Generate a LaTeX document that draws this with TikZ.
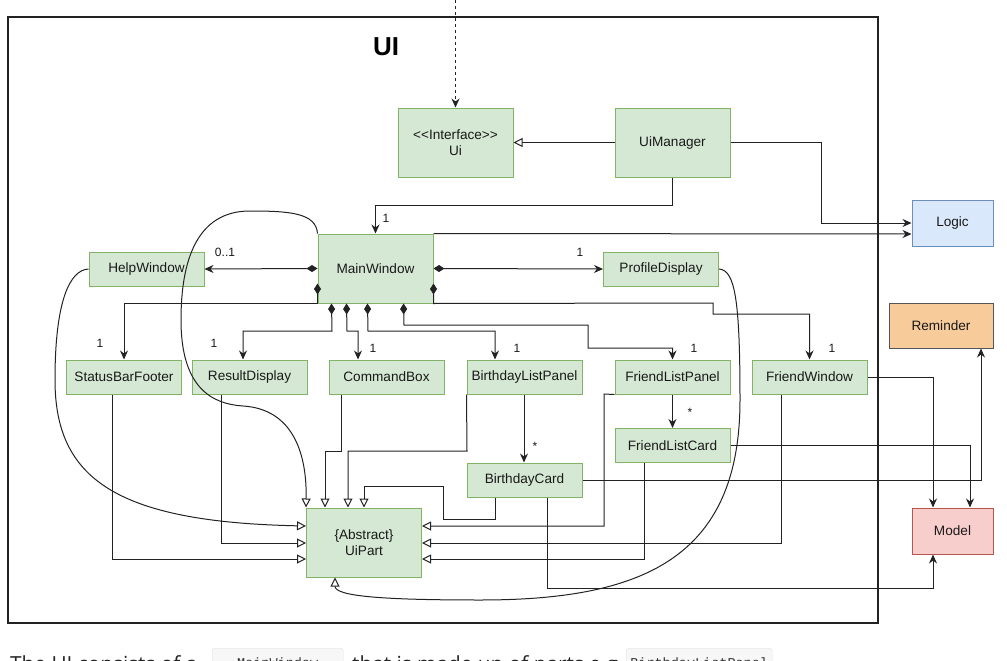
\documentclass[tikz,border=0pt]{standalone}
\usepackage{fontspec}
\setmainfont{Liberation Sans}
\newfontfamily\bodyfont{Open Sans}
\newfontfamily\codefont{Liberation Mono}
\usetikzlibrary{arrows.meta}
\definecolor{grnfill}{HTML}{D5E8D4}
\definecolor{grnline}{HTML}{82B366}
\definecolor{bluefill}{HTML}{DAE8FC}
\definecolor{blueline}{HTML}{6C8EBF}
\definecolor{redfill}{HTML}{F8CECC}
\definecolor{redline}{HTML}{B85450}
\definecolor{orgfill}{HTML}{F7CB9A}
\definecolor{orgline}{HTML}{555555}
\definecolor{wire}{HTML}{222222}
\tikzset{
  box/.style={draw, line width=1pt, align=center, inner sep=0pt,
    font=\fontsize{13.6}{16}\selectfont, text=black!90},
  cls/.style={box, draw=grnline, fill=grnfill},
  wide/.style={minimum width=115pt, minimum height=69pt},
  flat/.style={minimum width=115pt, minimum height=34pt},
  conn/.style={draw=wire, line width=1pt},
  arr/.style={conn, -{Stealth[length=9pt,width=8pt]}},
  inh/.style={conn, -{Triangle[open,length=9pt,width=9pt,fill=white]}},
  comp/.style={conn, {Diamond[length=11pt,width=7pt]}-{Stealth[length=9pt,width=8pt]}},
  mult/.style={font=\fontsize{12}{14}\selectfont, text=black!90, inner sep=0pt},
  bodytext/.style={anchor=base west, inner sep=0pt,
    font=\bodyfont\fontsize{20.8}{24}\selectfont, text=black!85},
  codebox/.style={draw=gray!25, fill=gray!6, rounded corners=3pt, anchor=north west,
    minimum height=29pt, inner sep=0pt, text depth=0pt,
    font=\codefont\fontsize{13.5}{16}\selectfont, text=black!80},
}
\begin{document}
\begin{tikzpicture}[x=1pt,y=-1pt]
\useasboundingbox (0,0) rectangle (1007,661);

% package frame
\draw[line width=1.5pt, draw=wire] (8,17) rectangle (878,623);
\node[font=\bfseries\fontsize{26}{30}\selectfont] (title) at (386,47) {UI};

% classes
\node[cls, wide] (ui)  at (455.5,142.5) {{<}{<}Interface{>}{>}\\Ui};
\node[cls, wide] (uim) at (672.5,142.5) {UiManager};
\node[cls, wide] (mw)  at (375.5,268.5) {MainWindow};
\node[cls, flat] (hw)  at (146.5,269) {HelpWindow};
\node[cls, flat] (pd)  at (661,269) {ProfileDisplay};
\node[cls, flat] (sbf) at (124,377) {StatusBarFooter};
\node[cls, flat] (rd)  at (249.5,377) {ResultDisplay};
\node[cls, flat] (cb)  at (386.5,377) {CommandBox};
\node[cls, flat] (blp) at (524.5,377) {BirthdayListPanel};
\node[cls, flat] (flp) at (672.5,377) {FriendListPanel};
\node[cls, flat] (fw)  at (809.5,377) {FriendWindow};
\node[cls, flat] (flc) at (672.5,445.5) {FriendListCard};
\node[cls, flat] (bc)  at (524.5,480) {BirthdayCard};
\node[cls, wide] (uip) at (364,542.5) {\{Abstract\}\\UiPart};

% other components
\node[box, draw=blueline, fill=bluefill, minimum width=81pt, minimum height=46pt] (logic) at (952.5,223) {Logic};
\node[box, draw=orgline, fill=orgfill, minimum width=104pt, minimum height=45pt] (rem) at (941,325.5) {Reminder};
\node[box, draw=redline, fill=redfill, minimum width=81pt, minimum height=46pt] (model) at (952.5,531) {Model};

% incoming dependency from outside
\coordinate (ext) at (455.5,0);
\draw[conn, dashed, -{Stealth[length=9pt,width=8pt]}] (ext) -- (ui.north);

% UiManager
\draw[inh] (uim.west) -- (ui.east);
\draw[arr] (uim.south) -- (672.5,205) -| (mw.north);
\draw[arr] (uim.east) -| (821,223) -- (logic.west);
\draw[arr] (mw.north east) -- ([yshift=-11pt]logic.west);

% composition from MainWindow
\draw[comp] (mw.west) -- (hw.east);
\draw[comp] (mw.east) -- (pd.west);
\draw[comp] ([yshift=-15pt]mw.west) -- (mw.south west) -| (sbf.north);
\draw[comp] ([yshift=-15pt]mw.east) -- (mw.south east) -- (713,303) -- (713,314) -| (fw.north);
\draw[comp] ([xshift=14pt]mw.south west) -- (332,331) -| ([xshift=-6.5pt]rd.north);
\draw[comp] ([xshift=29pt]mw.south west) -- (347,331) -| ([xshift=-28.5pt]cb.north);
\draw[comp] ([xshift=50pt]mw.south west) -- (368,331) -| ([xshift=-29.5pt]blp.north);
\draw[comp] ([xshift=86pt]mw.south west) -- (404,325) -- (588,325) -- (588,348) -| (flp.north);

% lists hold cards
\draw[arr] (flp.south) -- (flc.north);
\draw[arr] ([xshift=-0.5pt]blp.south) -- ([xshift=-0.5pt]bc.north);

% multiplicities
\node[mult] (m1)  at (386,218) {1};
\node[mult] (m2)  at (225,252) {0..1};
\node[mult] (m3)  at (580,252) {1};
\node[mult] (m4)  at (100,343) {1};
\node[mult] (m5)  at (214,343) {1};
\node[mult] (m6)  at (373,348) {1};
\node[mult] (m7)  at (517,348) {1};
\node[mult] (m8)  at (694,348) {1};
\node[mult] (m9)  at (832,348) {1};
\node[mult] (m10) at (690,412) {*};
\node[mult] (m11) at (535,446) {*};

% inheritance from UiPart
\draw[inh] (mw.north west) .. controls (316,213) and (290,211) .. (250,211)
  .. controls (196,211) and (181,262) .. (181,320)
  .. controls (181,388) and (212,404) .. (243,406)
  .. controls (292,409) and (307,452) .. (uip.north west);
\draw[inh] ([xshift=-45.5pt]cb.south) -- (341,451) -| ([xshift=-39pt]uip.north);
\draw[inh] (blp.south west) -- (467,451) -| ([xshift=-16pt]uip.north);
\draw[inh] ([xshift=-29.5pt]bc.south) -- (495,519) -- (443,519) -- (443,486) -| (uip.north);
\draw[inh] (hw.west) .. controls (70,270) and (55,300) .. (55,380)
  .. controls (55,478) and (115,522) .. ([yshift=16.5pt]uip.west);
\draw[inh] ([xshift=-28.5pt]rd.south) |- ([yshift=-0.5pt]uip.west);
\draw[inh] ([xshift=-12pt]sbf.south) |- ([yshift=-16.5pt]uip.west);
\draw[inh] (flp.south west) -- (604,394) |- ([yshift=16.5pt]uip.east);
\draw[inh] ([xshift=-28.5pt]fw.south) |- ([yshift=-0.5pt]uip.east);
\draw[inh] ([xshift=-28.5pt]flc.south) |- ([yshift=-16.5pt]uip.east);
\draw[inh] (pd.east) .. controls (735,270) and (740,300) .. (740,400)
  .. controls (740,560) and (640,600) .. (480,600)
  .. controls (380,600) and (335,596) .. ([xshift=-29pt]uip.south);

% links to Model and Reminder
\draw[arr] (fw.east) -| ([xshift=-19.5pt]model.north);
\draw[arr] (flc.east) -| ([xshift=17.5pt]model.north);
\draw[arr] (bc.east) -| ([xshift=40pt]rem.south);
\draw[arr] ([xshift=22.5pt]bc.south) -- (547,588) -| ([xshift=-19.5pt]model.south);

% caption line below the figure
\node[bodytext] (t1) at (10,671) {The UI consists of a};
\node[codebox, minimum width=131pt] (c1) at (212,648) {MainWindow};
\node[bodytext] (t2) at (352,671) {that is made up of parts e.g.};
\node[codebox, minimum width=146pt] (c2) at (626,648) {BirthdayListPanel};
\end{tikzpicture}
\end{document}
